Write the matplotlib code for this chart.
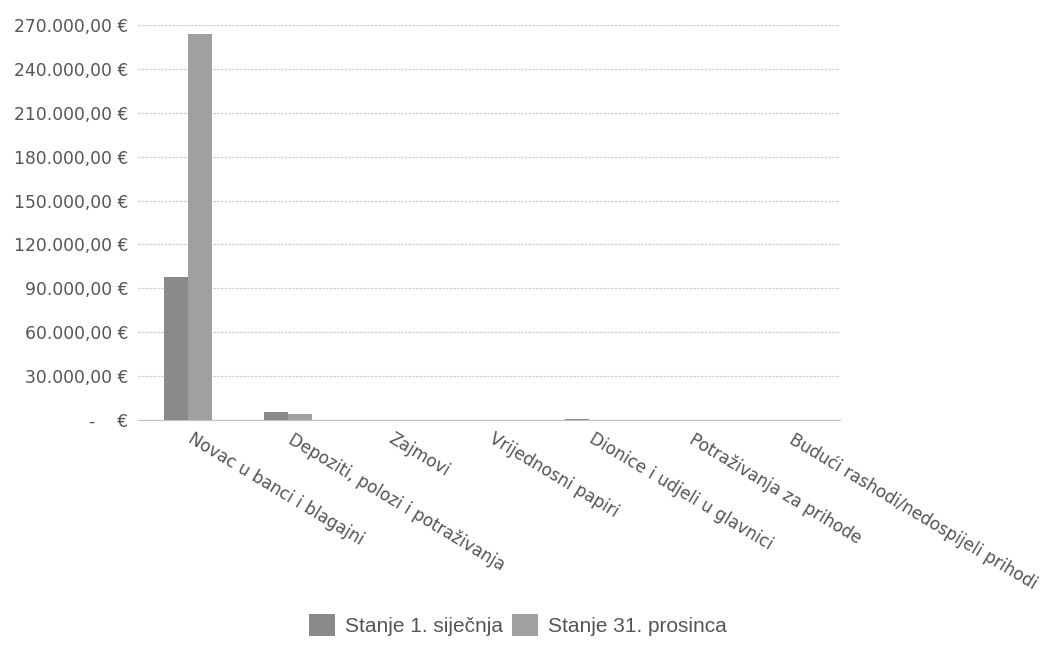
import matplotlib
matplotlib.use('Agg')
import matplotlib.pyplot as plt
import matplotlib.transforms as mtransforms
import numpy as np
from matplotlib.ticker import FuncFormatter

categories = ['Novac u banci i blagajni', 'Depoziti, polozi i potraživanja',
              'Zajmovi', 'Vrijednosni papiri', 'Dionice i udjeli u glavnici',
              'Potraživanja za prihode', 'Budući rashodi/nedospijeli prihodi']
stanje_1 = [98000, 5500, 0, 0, 900, 0, 0]
stanje_31 = [264000, 4200, 0, 0, 200, 0, 0]
series_names = ['Stanje 1. siječnja', 'Stanje 31. prosinca']
y_ticks = [0, 30000, 60000, 90000, 120000, 150000, 180000, 210000, 240000, 270000]

TEXT = '#555555'


def euro(v, pos=None):
    if v == 0:
        return '-    €'
    s = f'{v:,.2f}'.replace(',', 'X').replace('.', ',').replace('X', '.')
    return f'{s} €'


fig = plt.figure(figsize=(10.55, 6.53), dpi=100)
ax = fig.add_axes([0.1308, 0.3568, 0.665, 0.6049])

x = np.arange(len(categories))
w = 0.24
ax.bar(x - w / 2, stanje_1, w, color='#8a8a8a', label=series_names[0], zorder=3)
ax.bar(x + w / 2, stanje_31, w, color='#a0a0a0', label=series_names[1], zorder=3)

ax.set_xlim(-0.5, len(categories) - 0.5)
ax.set_ylim(0, 270000)
ax.set_yticks(y_ticks)
ax.yaxis.set_major_formatter(FuncFormatter(euro))
ax.grid(axis='y', color='#cfcfcf', linewidth=0.9, linestyle=(0, (2, 1)), zorder=0)

for sp in ['top', 'right', 'left']:
    ax.spines[sp].set_visible(False)
ax.spines['bottom'].set_color('#c0c0c0')

ax.tick_params(axis='y', length=0, pad=7, labelsize=12.3, labelcolor=TEXT)
ax.tick_params(axis='x', length=0, pad=7)
ax.set_xticks(x)
ax.set_xticklabels(categories, rotation=-31, ha='left', va='top',
                   rotation_mode='anchor', fontsize=12.2, color=TEXT)
shift = mtransforms.ScaledTranslation(6 / 100, 0, fig.dpi_scale_trans)
for lbl in ax.get_xticklabels():
    lbl.set_transform(lbl.get_transform() + shift)

fig.legend(loc='center', bbox_to_anchor=(0.491, 0.043), ncol=2, frameon=False,
           handlelength=1.25, handleheight=1.25, handletextpad=0.5, columnspacing=0.4,
           prop={'family': 'Liberation Sans', 'size': 15}, labelcolor=TEXT)

fig.savefig('out.png', dpi=100)
